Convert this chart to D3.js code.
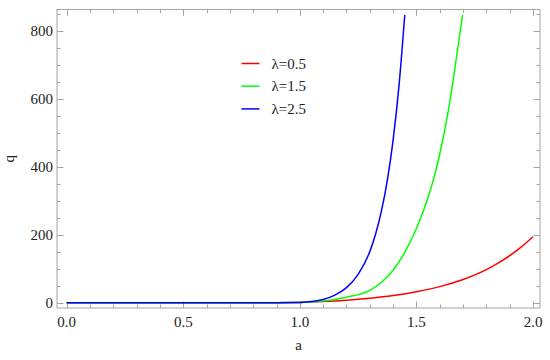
<!DOCTYPE html>
<html>
<head>
<meta charset="utf-8">
<script src="https://cdn.jsdelivr.net/npm/d3@7"></script>
<style>
  body { margin: 0; background: #fff; font-family: "Liberation Serif", "Times New Roman", Tinos, serif; }
  svg text { font-family: "Liberation Serif", "Times New Roman", Tinos, serif !important; }
</style>
</head>
<body>
<div id="chart"></div>
<script>
// values
var aRed   = [0, 0.5, 0.8, 0.9, 1.0, 1.1, 1.2, 1.3, 1.4, 1.5, 1.6, 1.7, 1.8, 1.85, 1.9, 1.95, 2.0];
var qRed   = [0, 0, 0, 0, 0.5, 3, 7, 13, 21, 32, 47, 68, 97, 116, 138, 164, 194];
var aGreen = [0, 0.5, 0.8, 0.9, 1.0, 1.1, 1.2, 1.3, 1.35, 1.4, 1.45, 1.5, 1.55, 1.575, 1.6, 1.625, 1.65, 1.675, 1.698];
var qGreen = [0, 0, 0, 0, 0.5, 5, 16, 36, 60, 95, 148, 218, 310, 367, 437, 520, 620, 737, 846];
var aBlue  = [0, 0.5, 0.8, 0.9, 1.0, 1.05, 1.1, 1.15, 1.2, 1.25, 1.3, 1.325, 1.35, 1.375, 1.4, 1.425, 1.45];
var qBlue  = [0, 0, 0, 0, 0.5, 3, 9, 22, 44, 83, 150, 202, 270, 359, 478, 636, 846];

var seriesNames = ["\u03bb=0.5", "\u03bb=1.5", "\u03bb=2.5"];
var seriesColors = ["#ff0000", "#00ff00", "#0000ff"];

var xTicks = [0, 0.5, 1.0, 1.5, 2.0];
var yTicks = [0, 200, 400, 600, 800];

/* build chart */
var w = 550;
var h = 360;
var serifFont = "\"Liberation Serif\", \"Times New Roman\", Tinos, serif";

var svg = d3.select("#chart")
    .append("svg")
    .attr("width", w)
    .attr("height", h)
    .style("font-family", serifFont);

var x = d3.scaleLinear().domain([-0.0415, 2.03]).range([57, 540]);
var y = d3.scaleLinear().domain([-15.8, 862]).range([308, 9.5]);

var frameColor = "#a6a6a6";
var textColor = "#222";

// frame
svg.append("rect")
    .attr("x", x.range()[0])
    .attr("y", y.range()[1])
    .attr("width", x.range()[1] - x.range()[0])
    .attr("height", y.range()[0] - y.range()[1])
    .attr("fill", "none")
    .attr("stroke", frameColor)
    .attr("stroke-width", 1);

// ticks on all four sides, pointing inward
var xMinor = d3.range(0, 21).map(function (i) { return i / 10; });
var yMinor = d3.range(0, 18).map(function (i) { return i * 50; });

function isMajorX(v) { return Math.abs(v * 2 - Math.round(v * 2)) < 1e-9; }
function isMajorY(v) { return v % 200 === 0; }

var tickG = svg.append("g").attr("stroke", frameColor).attr("stroke-width", 1);

xMinor.forEach(function (v) {
    var len = isMajorX(v) ? 6.5 : 3.5;
    var px = Math.round(x(v)) + 0.5;
    tickG.append("line").attr("x1", px).attr("x2", px)
        .attr("y1", y.range()[0]).attr("y2", y.range()[0] - len);
    tickG.append("line").attr("x1", px).attr("x2", px)
        .attr("y1", y.range()[1]).attr("y2", y.range()[1] + len);
});

yMinor.forEach(function (v) {
    var len = isMajorY(v) ? 6.5 : 3.5;
    var py = Math.round(y(v)) + 0.5;
    tickG.append("line").attr("y1", py).attr("y2", py)
        .attr("x1", x.range()[0]).attr("x2", x.range()[0] + len);
    tickG.append("line").attr("y1", py).attr("y2", py)
        .attr("x1", x.range()[1]).attr("x2", x.range()[1] - len);
});

// tick labels
svg.selectAll(".xlab")
    .data(xTicks)
    .enter()
    .append("text")
    .attr("class", "xlab")
    .attr("x", function (d) { return x(d); })
    .attr("y", 327)
    .attr("text-anchor", "middle")
    .style("font-size", "15px")
    .style("font-family", serifFont)
    .attr("fill", textColor)
    .text(function (d) { return d3.format(".1f")(d); });

svg.selectAll(".ylab")
    .data(yTicks)
    .enter()
    .append("text")
    .attr("class", "ylab")
    .attr("x", 53)
    .attr("y", function (d) { return y(d); })
    .attr("dy", "0.35em")
    .attr("text-anchor", "end")
    .style("font-size", "15px")
    .style("font-family", serifFont)
    .attr("fill", textColor)
    .text(function (d) { return d; });

// axis titles
svg.append("text")
    .attr("x", (x.range()[0] + x.range()[1]) / 2)
    .attr("y", 350)
    .attr("text-anchor", "middle")
    .style("font-size", "15px")
    .style("font-family", serifFont)
    .attr("fill", textColor)
    .text("a");

svg.append("text")
    .attr("transform", "translate(14," + ((y.range()[0] + y.range()[1]) / 2) + ") rotate(-90)")
    .attr("text-anchor", "middle")
    .style("font-size", "15px")
    .style("font-family", serifFont)
    .attr("fill", textColor)
    .text("q");

// curves
var series = [
    { a: aRed, q: qRed },
    { a: aGreen, q: qGreen },
    { a: aBlue, q: qBlue }
];

var line = d3.line()
    .x(function (d) { return x(d[0]); })
    .y(function (d) { return y(d[1]); })
    .curve(d3.curveMonotoneX);

svg.append("clipPath").attr("id", "clip")
    .append("rect")
    .attr("x", x.range()[0]).attr("y", y.range()[1])
    .attr("width", x.range()[1] - x.range()[0])
    .attr("height", y.range()[0] - y.range()[1]);

svg.append("g")
    .attr("clip-path", "url(#clip)")
    .selectAll("path")
    .data(series)
    .enter()
    .append("path")
    .attr("d", function (s) { return line(d3.zip(s.a, s.q)); })
    .attr("fill", "none")
    .attr("stroke", function (s, i) { return seriesColors[i]; })
    .attr("stroke-width", 1.5);

// legend
var legend = svg.append("g");
seriesNames.forEach(function (name, i) {
    var ly = 63.5 + i * 22.7;
    legend.append("line")
        .attr("x1", 241.5).attr("x2", 259.5)
        .attr("y1", ly).attr("y2", ly)
        .attr("stroke", seriesColors[i])
        .attr("stroke-width", 1.5);
    legend.append("text")
        .attr("x", 271.5)
        .attr("y", ly)
        .attr("dy", "0.35em")
        .style("font-size", "15px")
        .style("font-family", serifFont)
        .attr("fill", textColor)
        .text(name);
});
</script>
</body>
</html>
